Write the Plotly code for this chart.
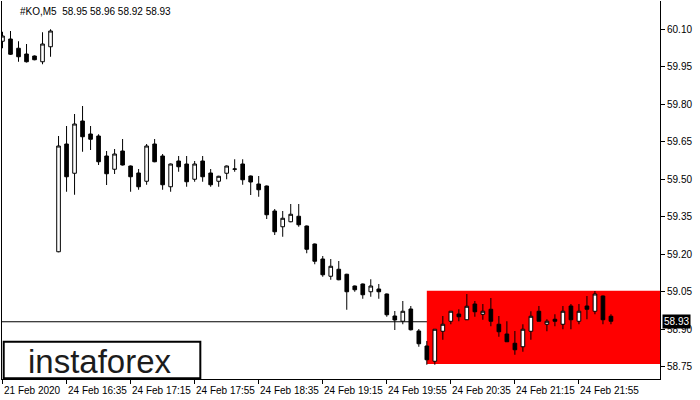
import plotly.graph_objects as go

# ---- data ----
opens = [60.052, 60.061, 60.024, 60.001, 59.993, 59.970, 60.030, 59.210, 59.641, 59.524,
         59.733, 59.681, 59.673, 59.593, 59.540, 59.613, 59.553, 59.525, 59.492, 59.641,
         59.593, 59.470, 59.573, 59.561, 59.500, 59.573, 59.525, 59.492, 59.524, 59.540,
         59.561, 59.513, 59.481, 59.473, 59.373, 59.310, 59.330, 59.352, 59.313, 59.241,
         59.181, 59.112, 59.140, 59.120, 59.073, 59.081, 59.050, 59.061, 59.041, 58.953,
         58.932, 58.981, 58.893, 58.833, 58.772, 58.892, 58.932, 58.961, 58.938, 59.001,
         58.960, 58.980, 58.920, 58.881, 58.844, 58.830, 58.892, 58.972, 58.920, 58.940,
         58.920, 58.993, 58.932, 58.993, 58.972, 59.033, 58.952]
highs = [60.090, 60.093, 60.052, 60.041, 59.995, 60.088, 60.100, 59.673, 59.713, 59.761,
         59.793, 59.713, 59.680, 59.613, 59.621, 59.661, 59.555, 59.541, 59.641, 59.661,
         59.601, 59.563, 59.593, 59.593, 59.573, 59.593, 59.541, 59.514, 59.555, 59.580,
         59.580, 59.515, 59.513, 59.475, 59.381, 59.373, 59.401, 59.401, 59.315, 59.243,
         59.193, 59.181, 59.173, 59.122, 59.075, 59.083, 59.100, 59.081, 59.043, 58.973,
         59.013, 58.993, 58.901, 58.853, 58.900, 58.953, 58.972, 58.980, 59.041, 59.013,
         59.001, 59.025, 58.953, 58.932, 58.893, 58.920, 58.972, 58.993, 58.940, 58.960,
         58.993, 59.001, 59.001, 59.033, 59.053, 59.035, 58.960]
lows = [60.024, 59.997, 59.970, 59.967, 59.976, 59.960, 59.990, 59.208, 59.450, 59.438,
        59.610, 59.617, 59.557, 59.477, 59.521, 59.555, 59.450, 59.458, 59.478, 59.568,
        59.458, 59.450, 59.530, 59.470, 59.490, 59.490, 59.470, 59.470, 59.500, 59.530,
        59.478, 59.437, 59.430, 59.341, 59.277, 59.270, 59.328, 59.310, 59.204, 59.160,
        59.110, 59.098, 59.096, 58.978, 59.050, 59.022, 59.030, 59.022, 58.950, 58.897,
        58.920, 58.895, 58.830, 58.758, 58.758, 58.858, 58.920, 58.932, 58.937, 58.950,
        58.938, 58.912, 58.870, 58.850, 58.798, 58.810, 58.858, 58.932, 58.892, 58.912,
        58.900, 58.900, 58.920, 58.940, 58.960, 58.920, 58.920]
closes = [60.073, 60.000, 59.990, 59.970, 59.978, 60.041, 60.093, 59.633, 59.510, 59.721,
          59.670, 59.660, 59.570, 59.522, 59.601, 59.557, 59.510, 59.470, 59.633, 59.570,
          59.478, 59.561, 59.550, 59.490, 59.561, 59.510, 59.478, 59.512, 59.553, 59.541,
          59.498, 59.489, 59.458, 59.358, 59.290, 59.344, 59.360, 59.318, 59.220, 59.172,
          59.118, 59.152, 59.098, 59.050, 59.058, 59.038, 59.073, 59.050, 58.958, 58.937,
          58.972, 58.898, 58.842, 58.778, 58.900, 58.920, 58.972, 58.950, 58.992, 58.970,
          58.972, 58.932, 58.890, 58.850, 58.818, 58.900, 58.952, 58.932, 58.932, 58.932,
          58.972, 58.938, 58.972, 58.980, 59.041, 58.938, 58.932]

tick_idx = [0, 8, 16, 24, 32, 40, 48, 56, 64, 72]
tick_labels = ["21 Feb 2020", "24 Feb 16:35", "24 Feb 17:15", "24 Feb 17:55", "24 Feb 18:35",
               "24 Feb 19:15", "24 Feb 19:55", "24 Feb 20:35", "24 Feb 21:15", "24 Feb 21:55"]
y_ticks = [58.75, 58.90, 59.05, 59.20, 59.35, 59.50, 59.65, 59.80, 59.95, 60.10]

pattern_start = 53        # bar index where the rectangle begins
pattern_top = 59.054
pattern_bottom = 58.761
last_price = 58.93
header = "#KO,M5  58.95 58.96 58.92 58.93"

x = list(range(len(opens)))

fig = go.Figure()
fig.add_trace(go.Candlestick(
    x=x, open=opens, high=highs, low=lows, close=closes,
    increasing=dict(line=dict(color="black", width=1), fillcolor="white"),
    decreasing=dict(line=dict(color="black", width=1), fillcolor="black"),
    whiskerwidth=0, hoverinfo="skip", showlegend=False,
))

# red pattern rectangle and current-price line
fig.add_shape(type="rect", xref="x", yref="y", x0=pattern_start, x1=200,
              y0=pattern_bottom, y1=pattern_top, fillcolor="#ff0000",
              line=dict(width=0), layer="below")
fig.add_shape(type="line", xref="paper", yref="y", x0=0, x1=1,
              y0=last_price, y1=last_price, line=dict(color="black", width=1),
              layer="below")

# logo box
fig.add_shape(type="rect", xref="paper", yref="paper", x0=0.0026, x1=0.3014,
              y0=0.002, y1=0.0987, fillcolor="white",
              line=dict(color="black", width=2), layer="above")
fig.add_annotation(text="instaforex", xref="paper", yref="paper", x=0.1496, y=0.047,
                   xanchor="center", yanchor="middle", showarrow=False,
                   font=dict(family="Liberation Sans Narrow, Liberation Sans", size=33, color="#1c1c1c"))

# header
fig.add_annotation(text=header, xref="paper", yref="paper", x=0.0245, y=0.9735,
                   xanchor="left", yanchor="middle", showarrow=False,
                   font=dict(family="Liberation Sans", size=10, color="black"))

# x labels, left-aligned at tick marks
for i, lab in zip(tick_idx, tick_labels):
    fig.add_annotation(text=lab, xref="x", yref="paper", x=i, y=0, yshift=-11,
                       xanchor="left", yanchor="middle", xshift=-1, showarrow=False,
                       font=dict(family="Liberation Sans", size=10, color="black"))

# current price tag
fig.add_annotation(text=f"{last_price:.2f}", xref="paper", yref="y", x=1, y=last_price,
                   xanchor="left", yanchor="middle", xshift=2, showarrow=False,
                   bgcolor="black", borderpad=1,
                   font=dict(family="Liberation Sans", size=10, color="white"))

fig.update_layout(
    width=700, height=400,
    margin=dict(l=2, r=40, t=1, b=21),
    paper_bgcolor="white", plot_bgcolor="white",
    boxgap=0.35,
    xaxis=dict(range=[-0.0625, 82.125], showgrid=False, zeroline=False,
               showline=True, linecolor="black", linewidth=1,
               tickmode="array", tickvals=tick_idx, ticktext=[""] * len(tick_idx),
               ticks="outside", ticklen=4, tickcolor="black", tickwidth=1,
               rangeslider=dict(visible=False), fixedrange=True),
    yaxis=dict(range=[58.701, 60.213], side="right", showgrid=False, zeroline=False,
               showline=True, mirror=True, linecolor="black", linewidth=1,
               tickmode="array", tickvals=y_ticks, tickformat=".2f",
               ticks="outside", ticklen=4, tickcolor="black", tickwidth=1,
               tickfont=dict(family="Liberation Sans", size=10, color="black"),
               fixedrange=True),
)

fig.write_html("out.html", config={"displayModeBar": False},
               post_script="document.body.style.margin='0';")
